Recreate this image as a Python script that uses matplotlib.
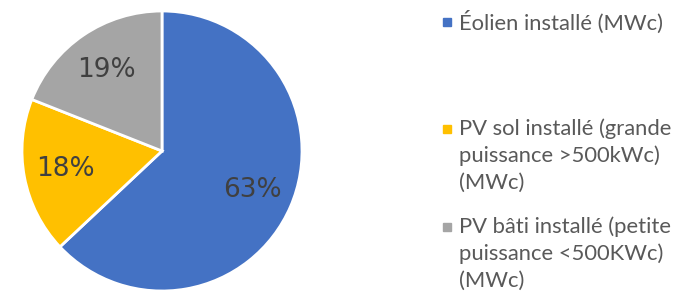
import matplotlib
matplotlib.use("Agg")
import matplotlib.pyplot as plt
from matplotlib.patches import Rectangle

categories = [
    "Éolien installé (MWc)",
    "PV sol installé (grande\npuissance >500kWc)\n(MWc)",
    "PV bâti installé (petite\npuissance <500KWc)\n(MWc)",
]
shares = [63, 18, 19]
colors = ["#4472C4", "#FFC000", "#A5A5A5"]

W, H = 680, 292
fig = plt.figure(figsize=(W / 100, H / 100), dpi=100)
fig.patch.set_facecolor("white")

cx, cy, r = 162, 151, 140
ax = fig.add_axes([(cx - r) / W, (H - cy - r) / H, 2 * r / W, 2 * r / H])
wedges, texts, autotexts = ax.pie(
    shares, colors=colors, startangle=90, counterclock=False,
    autopct="%.0f%%", pctdistance=0.70,
    wedgeprops=dict(edgecolor="white", linewidth=2),
    textprops=dict(color="#404040", fontsize=19, family="DejaVu Sans"),
)
ax.set_xlim(-1, 1)
ax.set_ylim(-1, 1)
ax.set_aspect("equal")
ax.axis("off")

# legend (manual, right side)
first_line_y = [22, 129, 227]
line_step = 27
for lab, col, y0 in zip(categories, colors, first_line_y):
    fig.patches.append(Rectangle(((443) / W, (H - y0 - 4) / H), 8 / W, 8 / H,
                                 transform=fig.transFigure, color=col))
    for i, line in enumerate(lab.split("\n")):
        fig.text(459 / W, (H - (y0 + i * line_step)) / H, line,
                 ha="left", va="center", fontsize=15.8, family="Lato",
                 color="#595959")

fig.savefig("out.png", dpi=100, facecolor="white")
